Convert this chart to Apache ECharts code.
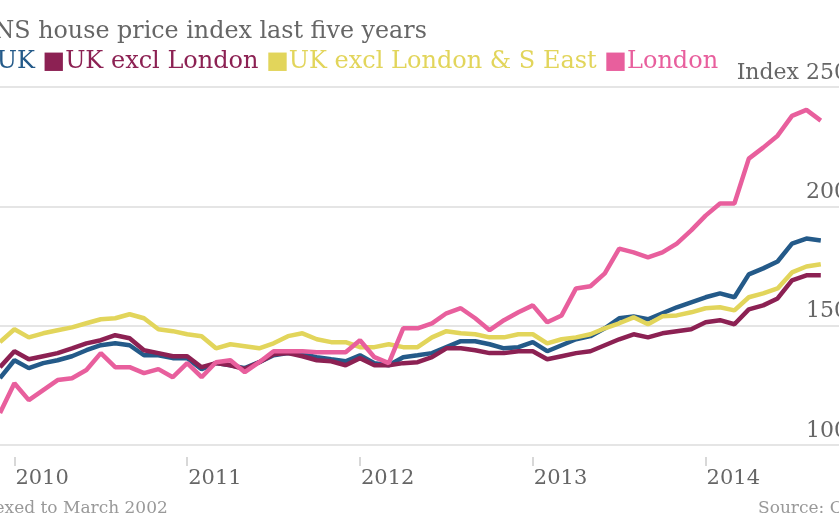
<!DOCTYPE html>
<html><head><meta charset="utf-8">
<script src="https://cdn.jsdelivr.net/npm/echarts@6/dist/echarts.min.js"></script>
<style>html,body{margin:0;padding:0;overflow:hidden;width:839px;height:523px;background:#fff}#c{width:900px;height:523px}</style>
</head><body><div id="c"></div>
<script>
const months = [];
for (let y = 2009, m = 12; y < 2015; ) { months.push(y + '-' + String(m).padStart(2,'0')); m++; if (m > 12) { m = 1; y++; } }
// Dec 2009 .. Dec 2014 (last three months empty)
const uk = [128.0,
 135.5,132.2,134.3,135.5,137.2,139.7,141.8,142.6,141.8,137.6,137.6,136.4,
 136.4,131.8,134.3,133.4,132.2,134.7,137.6,138.5,138.0,136.8,135.9,135.1,
 137.6,134.3,133.4,136.8,137.6,138.5,141.0,143.5,143.5,142.2,140.5,141.0,
 143.1,139.3,141.8,144.3,145.6,148.9,153.1,153.9,152.7,155.2,157.7,159.8,
 161.9,163.5,161.9,171.5,174.0,176.9,184.4,186.5,185.7];
const ukExLondon = [132.6,
 139.3,135.9,137.2,138.5,140.5,142.6,143.9,146.0,144.7,139.7,138.5,137.2,
 137.2,132.6,134.3,133.4,131.8,134.7,138.0,138.5,137.2,135.5,135.1,133.4,
 136.4,133.4,133.4,134.3,134.7,136.8,140.5,140.5,139.7,138.5,138.5,139.3,
 139.3,135.9,137.2,138.5,139.3,141.8,144.3,146.4,145.1,146.8,147.7,148.5,
 151.4,152.3,150.6,156.8,158.5,161.4,169.0,171.1,171.1];
const ukExLondonSE = [143.1,
 148.5,145.1,146.8,148.1,149.3,151.0,152.7,153.1,154.8,153.1,148.5,147.7,
 146.4,145.6,140.5,142.2,141.4,140.5,142.6,145.6,146.8,144.3,143.1,143.1,
 141.0,141.0,142.2,141.0,141.0,145.1,147.7,146.8,146.4,145.1,145.1,146.4,
 146.4,142.6,144.3,145.1,146.4,148.9,151.0,153.5,150.6,153.9,154.3,155.6,
 157.3,157.7,156.4,161.9,163.5,165.6,172.3,174.8,175.7];
const london = [113.4,
 125.9,118.8,123.0,127.2,128.0,131.4,138.5,132.6,132.6,130.1,131.8,128.4,
 134.3,128.4,134.7,135.5,130.5,134.7,139.3,139.3,139.3,138.9,138.9,138.9,
 143.9,136.8,134.3,148.9,148.9,151.0,155.2,157.3,153.1,148.1,152.3,155.6,
 158.5,151.4,154.3,165.6,166.5,171.9,182.3,180.7,178.6,180.7,184.4,189.9,
 196.1,201.2,201.2,220.0,224.6,229.6,237.9,240.4,235.9];
const yTicks = [100, 150, 200, 250];
const names = ['UK','UK excl London','UK excl London & S East','London'];
const colors = ['#245a89','#8c2153','#e2d55b','#e85f9d'];
const F = 'DejaVu Serif';
const ch = echarts.init(document.getElementById('c'));
ch.setOption({
  animation:false,
  grid:{left:0,right:36,top:87,bottom:78},
  xAxis:{type:'category',data:months,boundaryGap:false,offset:12,
    axisLine:{show:false},
    axisTick:{show:true,length:9,lineStyle:{color:'#ccc',width:1.5},interval:(i,v)=>v.endsWith('-01')},
    axisLabel:{interval:(i,v)=>v.endsWith('-01'),formatter:v=>v.slice(0,4),align:'left',margin:-2,padding:[13,0,0,1],
      fontFamily:F,fontSize:21,color:'#666'}},
  yAxis:{type:'value',position:'right',min:100,max:250,interval:50,
    axisLine:{show:false},axisTick:{show:false},
    splitLine:{lineStyle:{color:'#ddd',width:1.5}},
    axisLabel:{inside:true,margin:16,verticalAlign:'bottom',padding:[0,0,3,0],
      formatter:v=>v===yTicks[yTicks.length-1]?'Index '+v:String(v),fontFamily:F,fontSize:22,color:'#666'}},
  series:[uk,ukExLondon,ukExLondonSE,london].map((d,i)=>({
    name:names[i],type:'line',data:d,showSymbol:false,z:i===3?5:2,
    lineStyle:{width:4.5,color:colors[i]},itemStyle:{color:colors[i]}})),
  graphic:[
    {type:'text',left:-26,top:20,style:{text:'ONS house price index last five years',font:'23.8px "DejaVu Serif"',fill:'#666'}},
    {type:'text',left:-26,top:50,style:{text:
      '{a|■}{ta|UK }{b|■}{tb|UK excl London }{c|■}{tc|UK excl London & S East }{d|■}{td|London}',
      rich:{
        a:{fill:colors[0],font:'24px "DejaVu Sans"'},ta:{fill:colors[0],font:'24px "DejaVu Serif"'},
        b:{fill:colors[1],font:'24px "DejaVu Sans"'},tb:{fill:colors[1],font:'24px "DejaVu Serif"'},
        c:{fill:colors[2],font:'24px "DejaVu Sans"'},tc:{fill:colors[2],font:'24px "DejaVu Serif"'},
        d:{fill:colors[3],font:'24px "DejaVu Sans"'},td:{fill:colors[3],font:'24px "DejaVu Serif"'}}}},
    {type:'text',left:-34,top:500,style:{text:'Indexed to March 2002',font:'17px "DejaVu Serif"',fill:'#999'}},
    {type:'text',left:758,top:500,style:{text:'Source: ONS',font:'17px "DejaVu Serif"',fill:'#999'}}
  ]
});
</script></body></html>
